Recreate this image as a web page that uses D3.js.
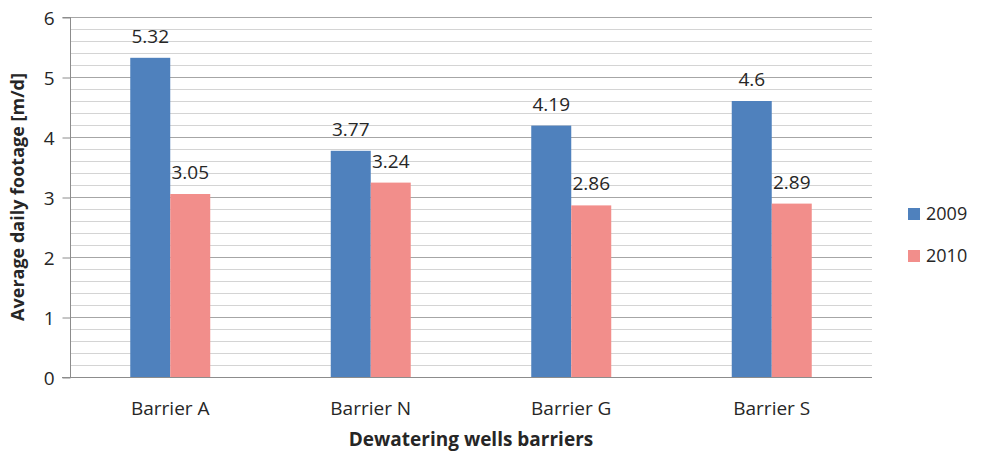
<!DOCTYPE html>
<html>
<head>
<meta charset="utf-8">
<script src="https://cdn.jsdelivr.net/npm/d3@7"></script>
<style>
  body { margin: 0; background: #fff; }
  text { font-family: "Open Sans", "Noto Sans", sans-serif; fill: #262626; }
</style>
</head>
<body>
<div id="chart"></div>
<script>
const width = 981;
const height = 454;

const barriers = ["Barrier A", "Barrier N", "Barrier G", "Barrier S"];
const years = ["2009", "2010"];
const values2009 = [5.32, 3.77, 4.19, 4.6];
const values2010 = [3.05, 3.24, 2.86, 2.89];
const yTicks = [0, 1, 2, 3, 4, 5, 6];

const colors = ["#4F81BD", "#F28E8B"];
const margin = { top: 17, right: 109, bottom: 77, left: 70 };

const rows = barriers.map((b, i) => ({ barrier: b, vals: [values2009[i], values2010[i]] }));

const svg = d3
  .select("#chart")
  .append("svg")
  .attr("width", width)
  .attr("height", height);

const x = d3
  .scaleBand()
  .domain(barriers)
  .range([margin.left, width - margin.right]);

const y = d3
  .scaleLinear()
  .domain([0, 6])
  .range([height - margin.bottom, margin.top]);

const barW = 40;

// minor gridlines
svg
  .append("g")
  .selectAll("line")
  .data(d3.range(0, 6.001, 0.2).filter((v) => Math.abs(v - Math.round(v)) > 0.01))
  .join("line")
  .attr("x1", margin.left)
  .attr("x2", width - margin.right)
  .attr("y1", (d) => Math.round(y(d)) + 0.5)
  .attr("y2", (d) => Math.round(y(d)) + 0.5)
  .attr("stroke", "#d4d4d4")
  .attr("stroke-width", 1);

// major gridlines
svg
  .append("g")
  .selectAll("line")
  .data(yTicks.slice(1))
  .join("line")
  .attr("x1", margin.left)
  .attr("x2", width - margin.right)
  .attr("y1", (d) => Math.round(y(d)) + 0.5)
  .attr("y2", (d) => Math.round(y(d)) + 0.5)
  .attr("stroke", "#a6a6a6")
  .attr("stroke-width", 1);

// y axis
const yAxis = svg
  .append("g")
  .attr("transform", `translate(${margin.left + 0.5},0.5)`)
  .call(d3.axisLeft(y).tickValues(yTicks).tickSize(8).tickPadding(8).tickFormat(d3.format("d")));
yAxis.select(".domain").attr("stroke", "#8c8c8c").attr("d", `M-8,${y(6)}H0V${y(0)}H-8`);
yAxis.selectAll(".tick line").attr("stroke", "#8c8c8c");
yAxis.selectAll(".tick text").style("font-size", "19px").attr("fill", "#262626").attr("dy", "0.35em");

// x axis baseline
svg
  .append("line")
  .attr("x1", margin.left - 8)
  .attr("x2", width - margin.right)
  .attr("y1", Math.round(y(0)) + 0.5)
  .attr("y2", Math.round(y(0)) + 0.5)
  .attr("stroke", "#8c8c8c");

// bars
const groups = svg
  .append("g")
  .selectAll("g")
  .data(rows)
  .join("g")
  .attr("transform", (d) => `translate(${x(d.barrier) + x.bandwidth() / 2 - barW},0)`);

groups
  .selectAll("rect")
  .data((d) => d.vals)
  .join("rect")
  .attr("x", (d, i) => i * barW)
  .attr("y", (d) => y(d))
  .attr("width", barW)
  .attr("height", (d) => y(0) - y(d))
  .attr("fill", (d, i) => colors[i]);

groups
  .selectAll("text")
  .data((d) => d.vals)
  .join("text")
  .attr("x", (d, i) => i * barW + barW / 2)
  .attr("y", (d) => y(d) - 15)
  .style("font-size", "19px")
  .style("text-anchor", "middle")
  .text((d) => d);

// category labels
svg
  .append("g")
  .selectAll("text")
  .data(barriers)
  .join("text")
  .attr("x", (d) => x(d) + x.bandwidth() / 2)
  .attr("y", 415)
  .style("font-size", "19px")
  .style("text-anchor", "middle")
  .text((d) => d);

// axis titles
svg
  .append("text")
  .attr("x", (margin.left + width - margin.right) / 2)
  .attr("y", 446)
  .style("font-size", "19px")
  .style("font-weight", "bold")
  .style("text-anchor", "middle")
  .attr("fill", "#000")
  .text("Dewatering wells barriers");

svg
  .append("text")
  .attr("transform", `translate(24,${(y(0) + y(6)) / 2}) rotate(-90)`)
  .style("font-size", "18px")
  .style("font-weight", "bold")
  .style("text-anchor", "middle")
  .attr("fill", "#000")
  .text("Average daily footage [m/d]");

// legend
const legend = svg
  .append("g")
  .selectAll("g")
  .data(years)
  .join("g")
  .attr("transform", (d, i) => `translate(908,${208 + i * 42})`);

legend
  .append("rect")
  .attr("width", 12)
  .attr("height", 12)
  .attr("fill", (d, i) => colors[i]);

legend
  .append("text")
  .attr("x", 18)
  .attr("y", 6)
  .attr("dy", "0.35em")
  .style("font-size", "18px")
  .text((d) => d);
</script>
</body>
</html>
